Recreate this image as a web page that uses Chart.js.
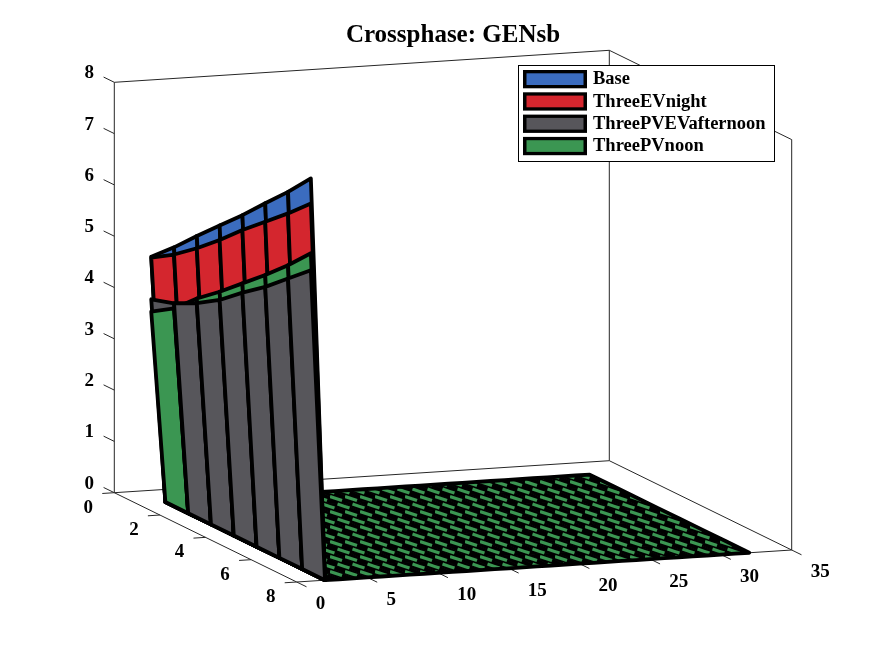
<!DOCTYPE html>
<html>
<head>
<meta charset="utf-8">
<title>Crossphase: GENsb</title>
<script src="https://cdn.jsdelivr.net/npm/chart.js@4.4.1/dist/chart.umd.min.js"></script>
<style>
  html, body { margin: 0; padding: 0; background: #fff; }
  #crossphase { display: block; }
</style>
</head>
<body>
<canvas id="crossphase" width="875" height="656"></canvas>
<script>
// surface grid: columns (x) and rows (y)
const xValues = [1, 2, 3, 4, 5, 6, 7, 8, 9, 10, 11, 12, 13, 14, 15, 16, 17, 18, 19, 20, 21, 22, 23, 24, 25, 26, 27, 28, 29, 30, 31, 32];
const yValues = [1, 2, 3, 4, 5, 6, 7, 8];

// height of each case in the first column (x = 1), one value per row
const base = [4.80, 5.20, 5.64, 6.06, 6.48, 6.93, 7.37, 7.85];
const threeEVnight = [4.78, 5.06, 5.40, 5.78, 6.19, 6.57, 6.95, 7.36];
const threePVEVafternoon = [3.97, 4.11, 4.33, 4.61, 4.97, 5.30, 5.68, 6.06];
const threePVnoon = [3.73, 4.01, 4.42, 4.77, 5.15, 5.53, 5.94, 6.39];
// all other columns are flat at this level for every case
const restLevel = 0;

const seriesNames = ['Base', 'ThreeEVnight', 'ThreePVEVafternoon', 'ThreePVnoon'];
const seriesValues = [base, threeEVnight, threePVEVafternoon, threePVnoon];
const seriesColors = ['#3b6cbf', '#d4262e', '#57565b', '#3b9652'];

// axis ticks
const xTicks = [0, 5, 10, 15, 20, 25, 30, 35];
const yTicks = [0, 2, 4, 6, 8];
const zTicks = [0, 1, 2, 3, 4, 5, 6, 7, 8];

// where the plot box corners land on the page (orthographic view)
const corner = {
    origin: [114.3, 492.7],  // x=0, y=0, z=0
    xEnd: [609.3, 460.7],    // x=35
    yEnd: [296.7, 582.0],    // y=8
    zEnd: [114.3, 82.3]      // z=8
};
const xMax = xTicks[xTicks.length - 1];
const yMax = yTicks[yTicks.length - 1];
const zMax = zTicks[zTicks.length - 1];

const serif = '"Liberation Serif", "Times New Roman", serif';

function project(x, y, z) {
    const o = corner.origin;
    const fx = x / xMax, fy = y / yMax, fz = z / zMax;
    return {
        x: o[0] + fx * (corner.xEnd[0] - o[0]) + fy * (corner.yEnd[0] - o[0]) + fz * (corner.zEnd[0] - o[0]),
        y: o[1] + fx * (corner.xEnd[1] - o[1]) + fy * (corner.yEnd[1] - o[1]) + fz * (corner.zEnd[1] - o[1])
    };
}

function heightAt(series, col, row) {
    return col === 0 ? series[row] : restLevel;
}

// black ground with green dashes, like the flat cells in the original
function stripes(color) {
    const c = document.createElement('canvas');
    c.width = 15;
    c.height = 15;
    const g = c.getContext('2d');
    g.fillStyle = '#000';
    g.fillRect(0, 0, 15, 15);
    g.strokeStyle = color;
    g.lineWidth = 3.2;
    g.beginPath();
    g.moveTo(0, 1.6); g.lineTo(12, 5.6);
    g.moveTo(7.5, 9.1); g.lineTo(19.5, 13.1);
    g.moveTo(-7.5, 9.1); g.lineTo(4.5, 13.1);
    g.stroke();
    return g.createPattern(c, 'repeat');
}

function face(pts, fillColor, lineColor, width, closed) {
    const data = pts.map(p => project(p[0], p[1], p[2]));
    if (closed !== false) data.push(data[0]);
    return {
        data: data,
        backgroundColor: fillColor,
        borderColor: lineColor,
        borderWidth: width,
        borderJoinStyle: 'round',
        borderCapStyle: 'round',
        fill: fillColor ? 'shape' : false,
        pointRadius: 0,
        tension: 0
    };
}

const backToFront = [];

// flat cells: the last surface (ThreePVnoon) ends up on top of the floor
const floorSeries = seriesValues[seriesValues.length - 1];
const floorFill = stripes(seriesColors[3]);
const lastCol = xValues.length - 1;
const lastRow = yValues.length - 1;
for (let r = 0; r < lastRow; r++) {
    for (let c = 1; c < lastCol; c++) {
        backToFront.push(face([
            [xValues[c], yValues[r], heightAt(floorSeries, c, r)],
            [xValues[c + 1], yValues[r], heightAt(floorSeries, c + 1, r)],
            [xValues[c + 1], yValues[r + 1], heightAt(floorSeries, c + 1, r + 1)],
            [xValues[c], yValues[r + 1], heightAt(floorSeries, c, r + 1)]
        ], floorFill, floorFill, 1));
    }
}

// outer edge of the flat part
const rim = [];
for (let c = 1; c <= lastCol; c++) rim.push([xValues[c], yValues[0], heightAt(floorSeries, c, 0)]);
for (let r = 1; r <= lastRow; r++) rim.push([xValues[lastCol], yValues[r], heightAt(floorSeries, lastCol, r)]);
for (let c = lastCol - 1; c >= 1; c--) rim.push([xValues[c], yValues[lastRow], heightAt(floorSeries, c, lastRow)]);
for (let r = lastRow - 1; r >= 0; r--) rim.push([xValues[1], yValues[r], heightAt(floorSeries, 1, r)]);
backToFront.push(face(rim, null, '#000', 3.8, true));

// the steep wall between x=1 and x=2, one strip per row and case
const wall = [];
seriesValues.forEach((series, s) => {
    for (let r = 0; r < lastRow; r++) {
        wall.push({
            row: r,
            level: Math.max(series[r], series[r + 1]),
            ds: face([
                [xValues[0], yValues[r], heightAt(series, 0, r)],
                [xValues[0], yValues[r + 1], heightAt(series, 0, r + 1)],
                [xValues[1], yValues[r + 1], heightAt(series, 1, r + 1)],
                [xValues[1], yValues[r], heightAt(series, 1, r)]
            ], seriesColors[s], '#000', 3.8)
        });
    }
});
// back rows first; inside a row the lowest strip is nearest the viewer
wall.sort((a, b) => a.row - b.row || b.level - a.level);
wall.forEach(w => backToFront.push(w.ds));

// Chart.js paints dataset 0 last, so hand them over front first
const datasets = backToFront.slice().reverse();

function px(chart, p) {
    return [chart.scales.x.getPixelForValue(p.x), chart.scales.y.getPixelForValue(p.y)];
}

function segment(g, chart, a, b) {
    const p = px(chart, a), q = px(chart, b);
    g.moveTo(p[0], p[1]);
    g.lineTo(q[0], q[1]);
}

// box edges and tick marks, behind the surfaces
const boxPlugin = {
    id: 'box3d',
    beforeDatasetsDraw(chart) {
        const g = chart.ctx;
        g.save();
        g.strokeStyle = '#262626';
        g.lineWidth = 1;
        g.beginPath();
        segment(g, chart, project(0, 0, 0), project(0, 0, zMax));
        segment(g, chart, project(0, 0, 0), project(0, yMax, 0));
        segment(g, chart, project(0, yMax, 0), project(xMax, yMax, 0));
        segment(g, chart, project(0, 0, 0), project(xMax, 0, 0));
        segment(g, chart, project(0, 0, zMax), project(xMax, 0, zMax));
        segment(g, chart, project(xMax, 0, 0), project(xMax, 0, zMax));
        segment(g, chart, project(xMax, 0, 0), project(xMax, yMax, 0));
        segment(g, chart, project(xMax, 0, zMax), project(xMax, yMax, zMax));
        segment(g, chart, project(xMax, yMax, 0), project(xMax, yMax, zMax));

        // tick lengths in data units (about 12px on screen)
        zTicks.forEach(z => segment(g, chart, project(0, 0, z), project(0, -0.47, z)));
        yTicks.forEach(y => segment(g, chart, project(0, y, 0), project(-0.85, y, 0)));
        xTicks.forEach(x => segment(g, chart, project(x, yMax, 0), project(x, yMax + 0.43, 0)));
        g.stroke();
        g.restore();
    },
    afterDatasetsDraw(chart) {
        const g = chart.ctx;
        g.save();
        g.fillStyle = '#000';
        g.font = 'bold 19px ' + serif;
        g.textBaseline = 'middle';

        g.textAlign = 'center';
        zTicks.forEach(z => {
            const p = px(chart, project(0, 0, z));
            g.fillText(String(z), p[0] - 25, p[1] - 9);
        });
        yTicks.forEach(y => {
            const p = px(chart, project(0, y, 0));
            g.fillText(String(y), p[0] - 26, p[1] + 15);
        });
        g.textAlign = 'left';
        xTicks.forEach(x => {
            const p = px(chart, project(x, yMax, 0));
            g.fillText(String(x), p[0] + 19, p[1] + 22.5);
        });

        // title
        g.textAlign = 'center';
        g.textBaseline = 'alphabetic';
        g.font = 'bold 25px ' + serif;
        g.fillText('Crossphase: GENsb', 453, 41.5);

        // legend
        const lx = 518, ly = 65, lw = 256, lh = 96, pitch = 22.3;
        g.fillStyle = '#fff';
        g.fillRect(lx, ly, lw, lh);
        g.strokeStyle = '#000';
        g.lineWidth = 1;
        g.strokeRect(lx + 0.5, ly + 0.5, lw, lh);
        g.font = 'bold 18.5px ' + serif;
        g.textAlign = 'left';
        g.textBaseline = 'middle';
        seriesNames.forEach((name, i) => {
            const y0 = ly + 5 + pitch * i;
            g.fillStyle = '#000';
            g.fillRect(lx + 5, y0, 64, 18.3);
            g.fillStyle = seriesColors[i];
            g.fillRect(lx + 8.5, y0 + 3.3, 57, 11.7);
            g.fillStyle = '#000';
            g.fillText(name, lx + 75, y0 + 9.5);
        });
        g.restore();
    }
};

new Chart(document.getElementById('crossphase').getContext('2d'), {
    type: 'line',
    data: { datasets: datasets },
    options: {
        responsive: false,
        animation: false,
        devicePixelRatio: 1,
        events: [],
        layout: { padding: 0 },
        scales: {
            x: { type: 'linear', min: 0, max: 875, display: false },
            y: { type: 'linear', min: 0, max: 656, reverse: true, display: false }
        },
        plugins: {
            legend: { display: false },
            tooltip: { enabled: false },
            title: { display: false },
            filler: { drawTime: 'beforeDatasetDraw' }
        }
    },
    plugins: [boxPlugin]
});
</script>
</body>
</html>
